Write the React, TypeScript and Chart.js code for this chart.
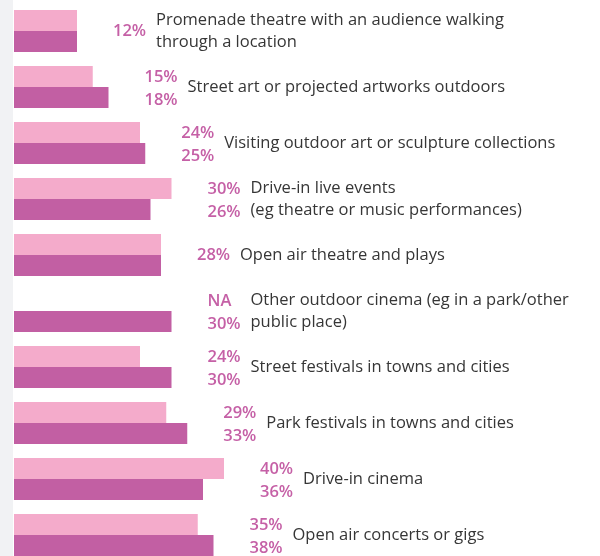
import React, { useEffect, useRef } from "react";
import { Chart, registerables } from "chart.js";

Chart.register(...registerables);

const categories: string[][] = [
  ["Promenade theatre with an audience walking", "through a location"],
  ["Street art or projected artworks outdoors"],
  ["Visiting outdoor art or sculpture collections"],
  ["Drive-in live events", "(eg theatre or music performances)"],
  ["Open air theatre and plays"],
  ["Other outdoor cinema (eg in a park/other", "public place)"],
  ["Street festivals in towns and cities"],
  ["Park festivals in towns and cities"],
  ["Drive-in cinema"],
  ["Open air concerts or gigs"],
];

const seriesA: (number | null)[] = [12, 15, 24, 30, 28, null, 24, 29, 40, 35];
const seriesB: (number | null)[] = [12, 18, 25, 26, 28, 30, 30, 33, 36, 38];

const LIGHT = "#f4abcb";
const DARK = "#c25fa3";
const PCT_COLOR = "#c560a6";
const TEXT_COLOR = "#363636";
const FONT = "'Open Sans', sans-serif";

const labelPlugin = {
  id: "groupLabels",
  beforeDraw(chart: any) {
    const ctx = chart.ctx;
    ctx.save();
    ctx.fillStyle = "#f1f2f4";
    ctx.fillRect(0, 0, 13, chart.height);
    ctx.restore();
  },
  afterDatasetsDraw(chart: any) {
    const ctx = chart.ctx;
    const xs = chart.scales.x;
    const m0 = chart.getDatasetMeta(0);
    const m1 = chart.getDatasetMeta(1);
    ctx.save();
    ctx.textBaseline = "middle";
    ctx.textAlign = "left";
    categories.forEach((lines, i) => {
      const a = seriesA[i];
      const b = seriesB[i];
      const yc = (m0.data[i].y + m1.data[i].y) / 2;
      const mx = Math.max(a ?? 0, b ?? 0);
      const x0 = xs.getPixelForValue(mx) + 36;
      ctx.font = `600 16.5px ${FONT}`;
      ctx.fillStyle = PCT_COLOR;
      if (a !== null && a === b) {
        ctx.fillText(`${a}%`, x0, yc);
      } else {
        ctx.fillText(a === null ? "NA" : `${a}%`, x0, yc - 10);
        ctx.fillText(b === null ? "NA" : `${b}%`, x0, yc + 13);
      }
      ctx.font = `400 16.5px ${FONT}`;
      ctx.fillStyle = TEXT_COLOR;
      const lh = 22;
      const start = yc - ((lines.length - 1) * lh) / 2;
      lines.forEach((ln, k) => ctx.fillText(ln, x0 + 43, start + k * lh));
    });
    ctx.restore();
  },
};

export default function App() {
  const ref = useRef<HTMLCanvasElement>(null);
  useEffect(() => {
    if (!ref.current) return;
    const chart = new Chart(ref.current, {
      type: "bar",
      data: {
        labels: categories.map((c) => c.join(" ")),
        datasets: [
          { label: "Series A", data: seriesA, backgroundColor: LIGHT, categoryPercentage: 0.75, barPercentage: 1 },
          { label: "Series B", data: seriesB, backgroundColor: DARK, categoryPercentage: 0.75, barPercentage: 1 },
        ],
      },
      options: {
        indexAxis: "y",
        animation: false,
        responsive: false,
        maintainAspectRatio: false,
        layout: { padding: { left: 14, right: 61, top: 3, bottom: 0 } },
        plugins: { legend: { display: false }, tooltip: { enabled: false } },
        scales: {
          x: { display: false, min: 0, max: 100 },
          y: { display: false },
        },
      },
      plugins: [labelPlugin],
    });
    return () => chart.destroy();
  }, []);
  return (
    <div style={{ position: "fixed", left: 0, top: 0, width: 600, height: 556, overflow: "hidden", background: "#fff" }}>
      <canvas ref={ref} width={600} height={563} style={{ display: "block", width: 600, height: 563 }} />
    </div>
  );
}
